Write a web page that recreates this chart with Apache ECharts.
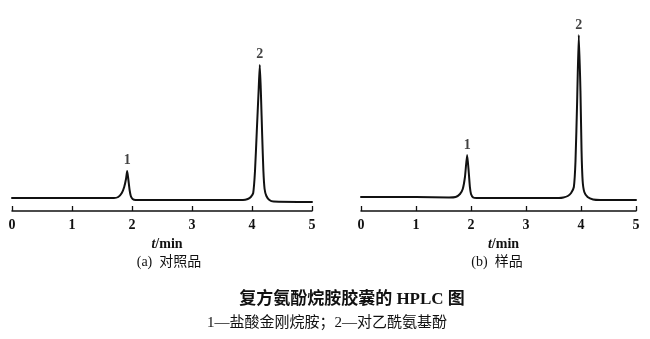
<!DOCTYPE html>
<html>
<head>
<meta charset="utf-8">
<script src="https://cdn.jsdelivr.net/npm/echarts@6/dist/echarts.min.js"></script>
<style>
  html, body { margin: 0; padding: 0; background: #fff; }
  #chart { width: 650px; height: 339px; }
</style>
</head>
<body>
<div id="chart"></div>
<script>
// Chromatogram (a): reference standard — retention time (min) and detector response
const timeA = [0, 1.00, 1.70, 1.77, 1.83, 1.87, 1.90, 1.92, 1.94, 1.96, 1.98, 2.01, 2.06, 3.00,
  3.85, 3.93, 3.98, 4.02, 4.05, 4.08, 4.11, 4.13, 4.15, 4.17, 4.19, 4.21, 4.24, 4.29, 4.36, 5.00];
const respA = [13, 13, 13, 14, 18, 24, 32, 40, 31, 21, 15, 12, 11, 11,
  11, 12, 14, 18, 40, 80, 120, 146, 115, 75, 40, 22, 15, 11, 9.5, 9];

// Chromatogram (b): sample
const timeB = [0, 1.00, 1.60, 1.72, 1.80, 1.85, 1.89, 1.93, 1.96, 1.98, 2.00, 2.04, 2.10, 3.00,
  3.60, 3.68, 3.76, 3.82, 3.87, 3.90, 3.93, 3.96, 3.99, 4.01, 4.03, 4.06, 4.12, 4.22, 4.35, 5.00];
const respB = [14, 14, 13.5, 14, 17, 22, 34, 56, 38, 24, 17, 13.5, 13, 13,
  13, 13.5, 15, 18, 24, 50, 110, 176, 120, 60, 30, 19, 14, 11.5, 11, 11];

// Peak numbering: 1 = amantadine hydrochloride, 2 = paracetamol
const peakNames = ['1', '2'];
const peakTimeA = [1.92, 4.13];
const peakTimeB = [1.93, 3.96];

const xTicks = { min: 0, max: 5, interval: 1 };

const serif = '"Liberation Serif", "Times New Roman", serif';
const cjk = '"Liberation Serif", "Noto Sans CJK SC", serif';

function pairs(ts, vs) { return ts.map((t, i) => [t, vs[i]]); }
function peakPoints(peakTs, ts, vs) {
  return peakTs.map((pt, k) => ({ value: [pt, vs[ts.indexOf(pt)]], name: peakNames[k] }));
}

function xAxisFor(gridIndex) {
  return {
    gridIndex, type: 'value', min: xTicks.min, max: xTicks.max, interval: xTicks.interval,
    axisLine: { show: true, onZero: false, lineStyle: { color: '#111', width: 1.5 } },
    axisTick: { show: true, inside: true, length: 5, lineStyle: { color: '#111', width: 1.3 } },
    splitLine: { show: false },
    axisLabel: { color: '#111', fontSize: 14, fontWeight: 'bold', fontFamily: serif, margin: 7 },
    name: '{i|t}/min', nameLocation: 'middle', nameGap: 25,
    nameTextStyle: {
      color: '#111', fontSize: 14, fontWeight: 'bold', fontFamily: serif, padding: [0, 0, 0, 10],
      rich: { i: { fontStyle: 'italic', fontWeight: 'bold', fontSize: 14, fontFamily: serif, color: '#111' } }
    }
  };
}
function yAxisFor(gridIndex) {
  return { gridIndex, type: 'value', min: 0, max: 180, show: false, splitLine: { show: false } };
}

const traceStyle = { color: '#111', width: 2, join: 'round', cap: 'round' };
const peakLabel = { show: true, position: 'top', formatter: '{b}',
  color: '#111', fontSize: 14, fontWeight: 'bold', fontFamily: serif };

const chart = echarts.init(document.getElementById('chart'), null, { renderer: 'canvas' });
chart.setOption({
  backgroundColor: '#fff',
  animation: false,
  grid: [
    { left: 12, right: 338, top: 31, bottom: 128 },
    { left: 361, right: 14, top: 31, bottom: 128 }
  ],
  xAxis: [xAxisFor(0), xAxisFor(1)],
  yAxis: [yAxisFor(0), yAxisFor(1)],
  series: [
    { type: 'line', xAxisIndex: 0, yAxisIndex: 0, data: pairs(timeA, respA),
      symbol: 'none', smooth: 0.2, lineStyle: traceStyle },
    { type: 'line', xAxisIndex: 1, yAxisIndex: 1, data: pairs(timeB, respB),
      symbol: 'none', smooth: 0.2, lineStyle: traceStyle },
    { type: 'scatter', xAxisIndex: 0, yAxisIndex: 0, symbolSize: 0,
      data: peakPoints(peakTimeA, timeA, respA),
      label: Object.assign({ distance: 4 }, peakLabel) },
    { type: 'scatter', xAxisIndex: 1, yAxisIndex: 1, symbolSize: 0,
      data: peakPoints(peakTimeB, timeB, respB),
      label: Object.assign({ distance: 3 }, peakLabel) }
  ],
  graphic: [
    { type: 'text', x: 169, y: 262, style: { text: '(a)  对照品', fill: '#111',
      fontSize: 14, fontFamily: cjk, align: 'center', verticalAlign: 'middle' } },
    { type: 'text', x: 497, y: 262, style: { text: '(b)  样品', fill: '#111',
      fontSize: 14, fontFamily: cjk, align: 'center', verticalAlign: 'middle' } },
    { type: 'text', x: 352, y: 300, style: { text: '复方氨酚烷胺胶囊的 HPLC 图', fill: '#111',
      fontSize: 17, fontWeight: 'bold', fontFamily: cjk, align: 'center', verticalAlign: 'middle' } },
    { type: 'text', x: 327, y: 323, style: { text: '1—盐酸金刚烷胺；2—对乙酰氨基酚', fill: '#111',
      fontSize: 15, fontFamily: cjk, align: 'center', verticalAlign: 'middle' } }
  ]
});
</script>
</body>
</html>
